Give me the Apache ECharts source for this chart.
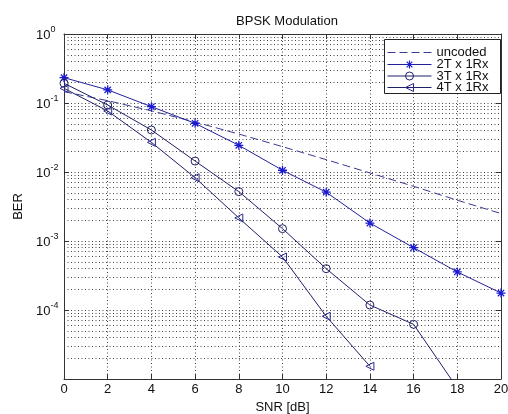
<!DOCTYPE html>
<html>
<head>
<meta charset="utf-8">
<script src="https://cdn.jsdelivr.net/npm/echarts@6/dist/echarts.min.js"></script>
<style>
html,body{margin:0;padding:0;background:#fff;}
#chart{width:508px;height:414px;}
</style>
</head>
<body>
<div id="chart"></div>
<script>
// ---- data ----
const snr = [0, 2, 4, 6, 8, 10, 12, 14, 16, 18, 20];
const uncoded = [0.146, 0.108, 0.077, 0.053, 0.0355, 0.0233, 0.0151, 0.0097, 0.0062, 0.0039, 0.0025];
const tx2 = [0.233, 0.155, 0.0885, 0.0507, 0.0244, 0.0106, 0.0051, 0.00182, 0.0008, 0.000356, 0.000176];
const tx3 = [0.193, 0.0935, 0.0406, 0.0144, 0.0052, 0.00151, 0.000397, 0.000118, 0.000062, 0.0000074];
const tx4 = [0.163, 0.0766, 0.0269, 0.00826, 0.00216, 0.000586, 0.0000812, 0.0000153];
const seriesNames = ['uncoded', '2T x 1Rx', '3T x 1Rx', '4T x 1Rx'];
const xTicks = [0, 2, 4, 6, 8, 10, 12, 14, 16, 18, 20];
const decades = [1e-5, 1e-4, 1e-3, 1e-2, 1e-1];
const minorMult = [2, 3, 4, 5, 6, 7, 8, 9];

function pairs(ys) { return ys.map((v, i) => [snr[i], v]); }

const gridDot = { color: '#444', width: 1, type: [1, 2.5] };
const w = 0.7;
const starPath = 'path://M-' + w + ',-5L' + w + ',-5L' + w + ',5L-' + w + ',5Z' +
  'M-5,-' + w + 'L5,-' + w + 'L5,' + w + 'L-5,' + w + 'Z' +
  'M-3.04,-4.03L4.03,3.04L3.04,4.03L-4.03,-3.04Z' +
  'M-4.03,3.04L3.04,-4.03L4.03,-3.04L-3.04,4.03Z';

const minorLines = [];
decades.forEach(d => minorMult.forEach(m => minorLines.push({ yAxis: d * m })));

const ff = 'Liberation Sans, Arial, sans-serif';
const axisCol = '#333';

// one legend row per series (positions are layout, not data)
const legendTops = [46, 58, 69.5, 81];
const legends = seriesNames.map((name, i) => ({
  data: [name],
  orient: 'vertical',
  left: 387, top: legendTops[i],
  padding: 0, z: 8,
  itemWidth: 44, itemHeight: 10, itemGap: 0,
  lineStyle: { width: 1 },
  itemStyle: { borderWidth: 1 },
  textStyle: { fontSize: 13, color: '#111', fontFamily: ff }
}));

const chart = echarts.init(document.getElementById('chart'), null, { renderer: 'canvas' });
chart.setOption({
  animation: false,
  backgroundColor: '#fff',
  textStyle: { fontFamily: ff },
  title: {
    text: 'BPSK Modulation',
    left: 282, top: 10, textAlign: 'center',
    textStyle: { fontSize: 13, fontWeight: 'normal', color: '#111', fontFamily: ff }
  },
  grid: { left: 64, right: 7, top: 34, bottom: 35, outerBoundsMode: 'none', containLabel: false },
  graphic: [{
    type: 'rect', z: 7,
    shape: { x: 384.5, y: 39.5, width: 116, height: 54 },
    style: { fill: '#fff', stroke: '#222', lineWidth: 1 }
  }],
  legend: legends,
  xAxis: [{
    type: 'value', min: 0, max: 20, interval: 2,
    name: 'SNR [dB]', nameLocation: 'middle', nameGap: 18,
    nameTextStyle: { fontSize: 13, color: '#111' },
    axisLine: { show: true, onZero: false, lineStyle: { color: axisCol } },
    axisTick: { show: true, inside: true, length: 5, lineStyle: { color: axisCol } },
    axisLabel: { fontSize: 13, color: '#111', margin: 4 },
    splitLine: { show: true, lineStyle: gridDot }
  }, {
    type: 'value', min: 0, max: 20, interval: 2, position: 'top',
    axisLine: { show: true, onZero: false, lineStyle: { color: axisCol } },
    axisTick: { show: true, inside: true, length: 5, lineStyle: { color: axisCol } },
    axisLabel: { show: false }, splitLine: { show: false }
  }],
  yAxis: [{
    type: 'log', logBase: 10, min: 1e-5, max: 1,
    name: 'BER', nameLocation: 'middle', nameGap: 34, nameRotate: 90,
    nameTextStyle: { fontSize: 13, color: '#111' },
    axisLine: { show: true, onZero: false, lineStyle: { color: axisCol } },
    axisTick: { show: true, inside: true, length: 5, lineStyle: { color: axisCol } },
    axisLabel: {
      margin: 28, align: 'left',
      formatter: function (v) {
        const e = Math.round(Math.log10(v));
        if (e <= -5) return '';
        return '{b|10}{s|' + e + '}';
      },
      rich: {
        b: { fontSize: 13, color: '#111', fontFamily: ff, padding: [3, 0, 0, 0] },
        s: { fontSize: 9, color: '#111', verticalAlign: 'top', padding: [0, 0, 8, 0], fontFamily: ff }
      }
    },
    splitLine: { show: true, lineStyle: gridDot }
  }, {
    type: 'log', logBase: 10, min: 1e-5, max: 1, position: 'right',
    axisLine: { show: true, onZero: false, lineStyle: { color: axisCol } },
    axisTick: { show: true, inside: true, length: 5, lineStyle: { color: axisCol } },
    axisLabel: { show: false }, splitLine: { show: false }
  }],
  series: [{
    name: seriesNames[0], type: 'line', data: pairs(uncoded),
    showSymbol: false, symbol: 'circle', symbolSize: 1, clip: true, z: 3,
    lineStyle: { color: '#3a3a92', width: 1, type: [8, 4] },
    itemStyle: { color: 'rgba(255,255,255,0)', borderColor: 'rgba(255,255,255,0)', borderWidth: 0 },
    markLine: {
      silent: true, symbol: 'none', label: { show: false }, animation: false,
      precision: 10,
      lineStyle: gridDot, z: 1,
      data: minorLines
    }
  }, {
    name: seriesNames[1], type: 'line', data: pairs(tx2), clip: true, z: 4,
    symbol: starPath, symbolSize: 9,
    lineStyle: { color: '#22229a', width: 1 },
    itemStyle: { color: '#1a1ad0', borderWidth: 0 }
  }, {
    name: seriesNames[2], type: 'line', data: pairs(tx3), clip: true, z: 4,
    symbol: 'circle', symbolSize: 8,
    lineStyle: { color: '#202068', width: 1 },
    itemStyle: { color: 'rgba(255,255,255,0)', borderColor: '#202068', borderWidth: 1 }
  }, {
    name: seriesNames[3], type: 'line', data: pairs(tx4), clip: true, z: 4,
    symbol: 'triangle', symbolSize: 8, symbolRotate: 90,
    lineStyle: { color: '#202068', width: 1 },
    itemStyle: { color: 'rgba(255,255,255,0)', borderColor: '#2a2a90', borderWidth: 1 }
  }]
});
</script>
</body>
</html>
